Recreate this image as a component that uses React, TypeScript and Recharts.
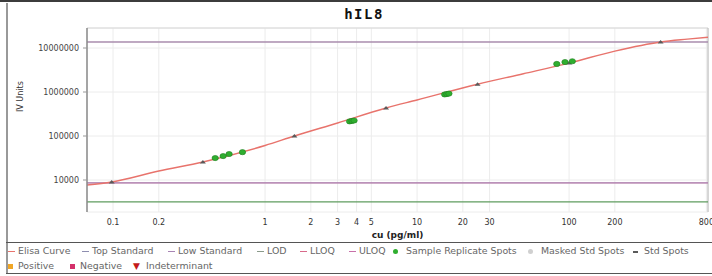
import React from 'react';
import {
  ComposedChart,
  Line,
  Scatter,
  XAxis,
  YAxis,
  CartesianGrid,
  ReferenceLine,
} from 'recharts';

// fitted ELISA curve
const curveConc = [0.0674, 0.098, 0.2, 0.39, 1, 1.56, 3, 6.25, 10, 25, 50, 100, 200, 400, 600, 820];
const curveSignal = [7700, 9000, 16000, 25700, 61000, 100000, 198000, 434000, 660000, 1500000, 2600000, 4550000, 8500000, 13700000, 15900000, 17600000];

// standards (4-fold dilution series)
const stdConc = [0.098, 0.39, 1.56, 6.25, 25, 100, 400];
const stdSignal = [9000, 25700, 100000, 434000, 1500000, 4550000, 13700000];

// sample replicate spots
const sampleConc = [0.47, 0.53, 0.58, 0.71, 3.6, 3.73, 3.85, 15.2, 15.7, 16.2, 83, 94, 105];
const sampleSignal = [31600, 35000, 39000, 43000, 215000, 220000, 225000, 880000, 900000, 920000, 4350000, 4800000, 5000000];

const xTicks = [0.1, 0.2, 1, 2, 3, 4, 5, 10, 20, 30, 100, 200, 800];
const yTicks = [10000, 100000, 1000000, 10000000];

const topStandard = 13700000;
const lowStandard = 8600;
const lod = 3200;

const X_DOMAIN = [0.0674, 820];
const Y_DOMAIN = [1875, 28500000];

const COLORS = {
  curve: '#e8736c',
  top: '#8e8eb0',
  low: '#a884b4',
  lod: '#5f9c5f',
  lloq: '#e490a8',
  uloq: '#e08aa8',
  sample: '#2fae2f',
  masked: '#d0d0d0',
  std: '#5a5a5a',
  positive: '#f0a626',
  negative: '#d4306a',
  indet: '#c41a1a',
};

const LEGEND_ROW_1 = [
  { label: 'Elisa Curve', kind: 'line', color: COLORS.curve, left: 8 },
  { label: 'Top Standard', kind: 'line', color: COLORS.top, left: 82 },
  { label: 'Low Standard', kind: 'line', color: COLORS.low, left: 168 },
  { label: 'LOD', kind: 'line', color: '#8a9a8a', left: 257 },
  { label: 'LLOQ', kind: 'line', color: '#d86a8a', left: 300 },
  { label: 'ULOQ', kind: 'line', color: '#c870a8', left: 349 },
  { label: 'Sample Replicate Spots', kind: 'dot', color: COLORS.sample, left: 393 },
  { label: 'Masked Std Spots', kind: 'dot', color: COLORS.masked, left: 528 },
  { label: 'Std Spots', kind: 'dash', color: COLORS.std, left: 633 },
];

const LEGEND_ROW_2 = [
  { label: 'Positive', kind: 'square', color: COLORS.positive, left: 8 },
  { label: 'Negative', kind: 'square', color: COLORS.negative, left: 70 },
  { label: 'Indeterminant', kind: 'tri', color: COLORS.indet, left: 133 },
];

const curveData = curveConc.map((x, i) => ({ x, y: curveSignal[i] }));
const stdData = stdConc.map((x, i) => ({ x, y: stdSignal[i] }));
const sampleData = sampleConc.map((x, i) => ({ x, y: sampleSignal[i] }));

const StdShape = (props: any) => {
  const { cx, cy } = props;
  if (cx == null || cy == null) return null;
  return <path d={`M${cx - 3},${cy + 1.5} L${cx},${cy - 2} L${cx + 3},${cy + 1.5} Z`} fill={COLORS.std} />;
};

const SampleShape = (props: any) => {
  const { cx, cy } = props;
  if (cx == null || cy == null) return null;
  return <ellipse cx={cx} cy={cy} rx={3.2} ry={2.6} fill={COLORS.sample} stroke="#1f7f1f" strokeWidth={0.6} />;
};

const Marker = ({ kind, color }: { kind: string; color: string }) => {
  if (kind === 'line') return <span style={{ display: 'inline-block', width: 7, height: 1.5, background: color, marginRight: 3, verticalAlign: 'middle' }} />;
  if (kind === 'dot') return <span style={{ display: 'inline-block', width: 5, height: 5, borderRadius: 3, background: color, marginRight: 8, verticalAlign: 'middle' }} />;
  if (kind === 'dash') return <span style={{ display: 'inline-block', width: 5, height: 2, background: color, marginRight: 6, verticalAlign: 'middle' }} />;
  if (kind === 'square') return <span style={{ display: 'inline-block', width: 5, height: 5, background: color, marginRight: 5, verticalAlign: 'middle' }} />;
  return <span style={{ color, fontSize: 9, marginRight: 6 }}>▼</span>;
};

const LegendRow = ({ items, top }: { items: typeof LEGEND_ROW_1; top: number }) => (
  <>
    {items.map((it) => (
      <div
        key={it.label}
        style={{ position: 'absolute', left: it.left, top, whiteSpace: 'nowrap', fontSize: 9.4, color: '#666', lineHeight: '13px' }}
      >
        <Marker kind={it.kind} color={it.color} />
        {it.label}
      </div>
    ))}
  </>
);

export default function App() {
  return (
    <div
      style={{
        position: 'relative',
        width: 712,
        height: 276,
        background: '#fff',
        fontFamily: '"DejaVu Sans", sans-serif',
        overflow: 'hidden',
      }}
    >
      <style>{'body{margin:0}'}</style>
      <div style={{ position: 'absolute', left: 0, top: 0, width: 712, height: 2, background: '#3c3c3c' }} />
      <div style={{ position: 'absolute', left: 6, top: 3, width: 1.5, height: 271, background: '#999' }} />
      <div
        style={{
          position: 'absolute',
          left: 314,
          top: 6,
          width: 100,
          textAlign: 'center',
          fontFamily: '"DejaVu Sans Mono", monospace',
          fontWeight: 'bold',
          fontSize: 14,
          letterSpacing: 1.5,
          color: '#111',
        }}
      >
        hIL8
      </div>
      <ComposedChart width={712} height={243} margin={{ top: 28, right: 4, bottom: 0, left: 8 }}>
        <CartesianGrid stroke="#ececec" />
        <XAxis
          dataKey="x"
          type="number"
          scale="log"
          domain={X_DOMAIN}
          allowDataOverflow
          ticks={xTicks}
          interval={0}
          axisLine={false}
          tickLine={false}
          tickSize={5}
          tickMargin={2}
          height={31}
          tick={{ fontSize: 8, fill: '#333' }}
          tickFormatter={(v: number) => String(v)}
          label={{ value: 'cu (pg/ml)', position: 'insideBottom', offset: 5, fontSize: 9, fill: '#222', fontWeight: 'bold' }}
        />
        <YAxis
          dataKey="y"
          type="number"
          scale="log"
          domain={Y_DOMAIN}
          allowDataOverflow
          ticks={yTicks}
          interval={0}
          width={79}
          axisLine={{ stroke: '#8a8a8a', strokeWidth: 1.5 }}
          tickLine={{ stroke: '#999' }}
          tickSize={4}
          tickMargin={4}
          tick={{ fontSize: 8, fill: '#444' }}
          tickFormatter={(v: number) => String(v)}
          label={{ value: 'IV Units', angle: -90, position: 'insideLeft', offset: 12, fontSize: 8, fill: '#333', dy: -8 }}
        />
        <ReferenceLine y={Y_DOMAIN[1]} stroke="#d8d8d8" />
        <ReferenceLine x={X_DOMAIN[1]} stroke="#b8b8b8" />
        <ReferenceLine y={lod} stroke={COLORS.lod} strokeWidth={1.2} />
        <ReferenceLine y={lowStandard} stroke={COLORS.lloq} strokeWidth={1} />
        <ReferenceLine y={lowStandard} stroke={COLORS.low} strokeWidth={1.2} />
        <ReferenceLine y={topStandard} stroke={COLORS.uloq} strokeWidth={1} />
        <ReferenceLine y={topStandard} stroke={COLORS.top} strokeWidth={1.2} />
        <Line
          data={curveData}
          dataKey="y"
          type="monotone"
          stroke={COLORS.curve}
          strokeWidth={1.4}
          dot={false}
          isAnimationActive={false}
        />
        <Scatter data={stdData} dataKey="y" shape={<StdShape />} isAnimationActive={false} />
        <Scatter data={sampleData} dataKey="y" shape={<SampleShape />} isAnimationActive={false} />
      </ComposedChart>
      <div
        style={{
          position: 'absolute',
          left: 6,
          top: 242,
          width: 710,
          height: 30,
          borderTop: '1.5px solid #555',
          borderBottom: '1.5px solid #555',
        }}
      />
      <LegendRow items={LEGEND_ROW_1} top={244} />
      <LegendRow items={LEGEND_ROW_2} top={259} />
    </div>
  );
}
